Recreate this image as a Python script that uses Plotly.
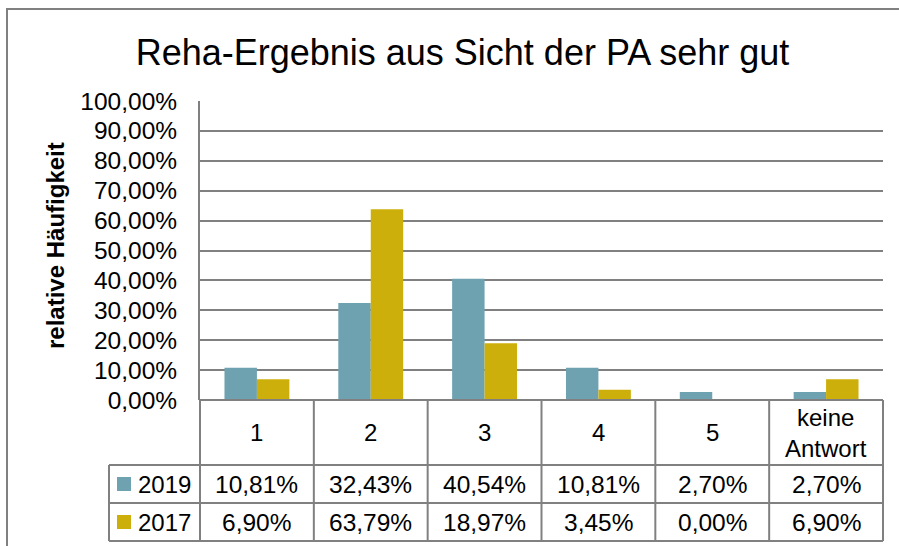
import plotly.graph_objects as go

# ---- data ----
categories = ["1", "2", "3", "4", "5", "keine<br>Antwort"]
series_names = ["2019", "2017"]
values_2019 = [10.81, 32.43, 40.54, 10.81, 2.70, 2.70]
values_2017 = [6.90, 63.79, 18.97, 3.45, 0.00, 6.90]
y_ticks = [0, 10, 20, 30, 40, 50, 60, 70, 80, 90, 100]
title_text = "Reha-Ergebnis aus Sicht der PA sehr gut"
y_title = "relative Häufigkeit"

# ---- style ----
W, H = 899, 546
L, R, T, B = 200, 16, 101, 146
PW, PH = W - L - R, H - T - B
FONT = "Liberation Sans, Arial, sans-serif"
COL_2019 = "#6EA2B0"
COL_2017 = "#CDAF0B"
LINE = "#808080"


def px(x):
    return (x - L) / PW


def py(y):
    return (H - B - y) / PH


def fmt(v):
    return f"{v:.2f}".replace(".", ",") + "%"


fig = go.Figure()
fig.add_trace(go.Bar(x=list(range(len(categories))), y=values_2019, name=series_names[0],
                     marker=dict(color=COL_2019, line=dict(width=0))))
fig.add_trace(go.Bar(x=list(range(len(categories))), y=values_2017, name=series_names[1],
                     marker=dict(color=COL_2017, line=dict(width=0))))

shapes = []
# outer chart border
shapes.append(dict(type="rect", xref="paper", yref="paper", x0=px(7), x1=px(910),
                   y0=py(570), y1=py(9), line=dict(color=LINE, width=2), layer="below"))
# table lines
row_lines = [465, 503, 541]
for yy in row_lines:
    shapes.append(dict(type="line", xref="paper", yref="paper", x0=px(109), x1=px(883),
                       y0=py(yy), y1=py(yy), line=dict(color=LINE, width=2)))
shapes.append(dict(type="line", xref="paper", yref="paper", x0=px(200), x1=px(883),
                   y0=py(400), y1=py(400), line=dict(color=LINE, width=2)))
n = len(categories)
for i in range(n + 1):
    xx = 200 + i * (883 - 200) / n
    shapes.append(dict(type="line", xref="paper", yref="paper", x0=px(xx), x1=px(xx),
                       y0=py(400), y1=py(541), line=dict(color=LINE, width=2)))
shapes.append(dict(type="line", xref="paper", yref="paper", x0=px(109), x1=px(109),
                   y0=py(465), y1=py(541), line=dict(color=LINE, width=2)))
# legend keys
row_centers = [484, 522]
for c, yc in zip([COL_2019, COL_2017], row_centers):
    shapes.append(dict(type="rect", xref="paper", yref="paper", x0=px(117), x1=px(131),
                       y0=py(yc + 7), y1=py(yc - 7), fillcolor=c, line=dict(width=0)))

annotations = []
# category row
for i, c in enumerate(categories):
    annotations.append(dict(x=i, xref="x", y=py(432.5), yref="paper", text=c, showarrow=False,
                            font=dict(family=FONT, size=24, color="black"),
                            xanchor="center", yanchor="middle"))
for name, vals, yc in zip(series_names, [values_2019, values_2017], row_centers):
    annotations.append(dict(x=px(136), xref="paper", y=py(yc), yref="paper", text=name,
                            showarrow=False, font=dict(family=FONT, size=24, color="black"),
                            xanchor="left", yanchor="middle"))
    for i, v in enumerate(vals):
        annotations.append(dict(x=i, xref="x", y=py(yc), yref="paper", text=fmt(v),
                                showarrow=False, font=dict(family=FONT, size=24.5, color="black"),
                                xanchor="center", yanchor="middle"))
# y axis title
annotations.append(dict(x=px(55), xref="paper", y=py(246), yref="paper", text=f"<b>{y_title}</b>",
                        textangle=-90, showarrow=False,
                        font=dict(family=FONT, size=24, color="black"),
                        xanchor="center", yanchor="middle"))

fig.update_layout(
    width=W, height=H,
    margin=dict(l=L, r=R, t=T, b=B),
    paper_bgcolor="white", plot_bgcolor="white",
    barmode="group", bargap=0.43, bargroupgap=0,
    showlegend=False,
    title=dict(text=title_text, x=(137 + 788) / 2 / W, xanchor="center",
               y=1 - 52 / H, yanchor="middle",
               font=dict(family=FONT, size=36, color="black")),
    xaxis=dict(range=[-0.5, n - 0.5], showticklabels=False, showgrid=False,
               zeroline=False, showline=False, fixedrange=True),
    yaxis=dict(range=[0, 100], tickmode="array", tickvals=y_ticks,
               ticktext=[fmt(v) for v in y_ticks],
               showgrid=True, gridcolor=LINE, gridwidth=2, zeroline=False,
               showline=True, linecolor=LINE, linewidth=2,
               ticks="", ticklabelstandoff=16,
               tickfont=dict(family=FONT, size=24.5, color="black")),
    shapes=shapes,
    annotations=annotations,
)

fig.write_html("out.html", config={"displayModeBar": False},
               post_script="document.body.style.margin='0px';")
